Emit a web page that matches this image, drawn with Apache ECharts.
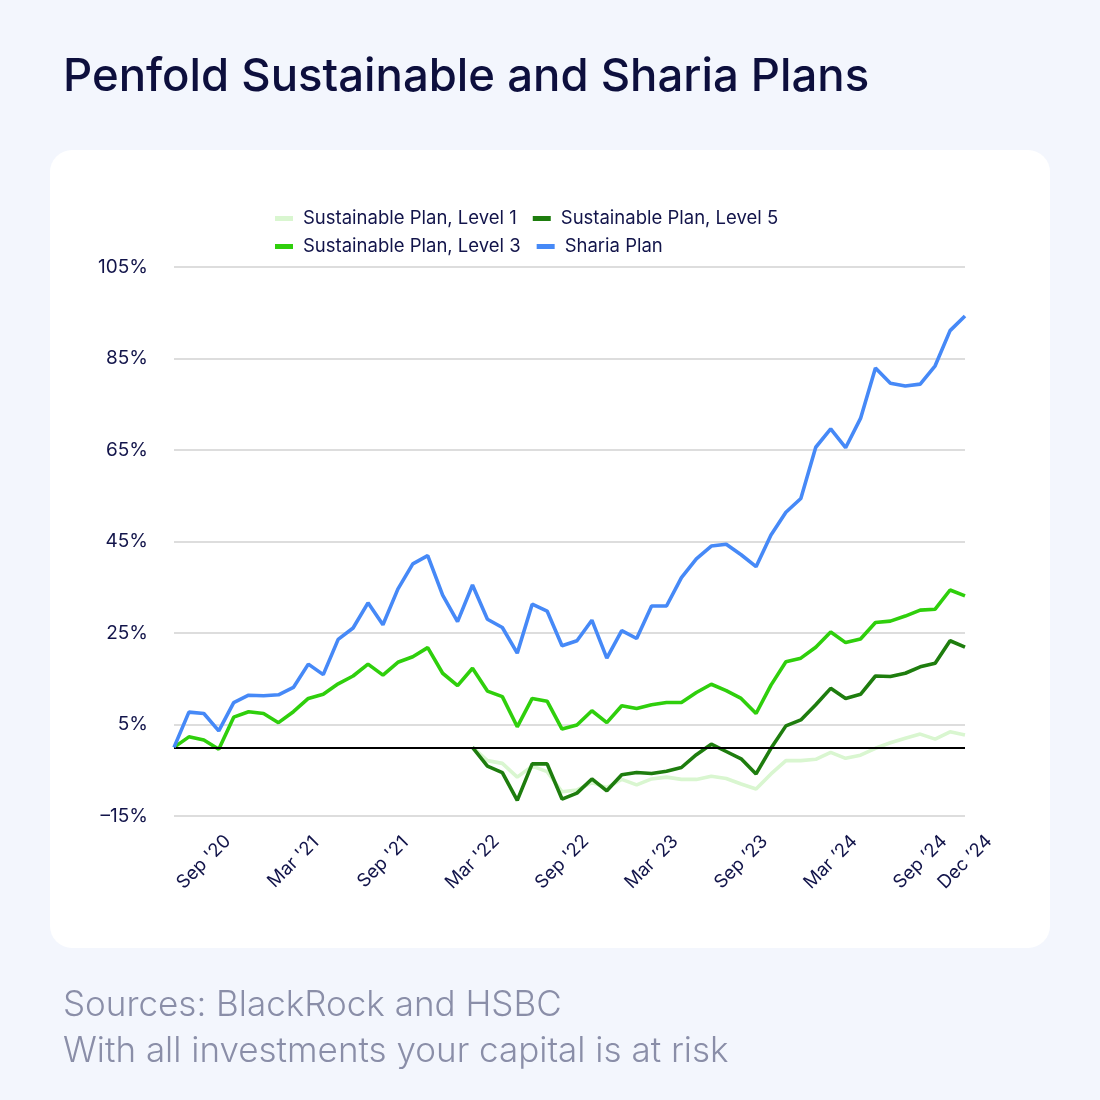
<!DOCTYPE html>
<html>
<head>
<meta charset="utf-8">
<style>
  html, body { margin: 0; padding: 0; background: #f3f6fd; }
  #chart { width: 1100px; height: 1100px; }
</style>
<script src="https://cdn.jsdelivr.net/npm/echarts@6/dist/echarts.min.js"></script>
</head>
<body>
<div id="chart"></div>
<script>
var months = [
  "Jul '20", "Aug '20", "Sep '20", "Oct '20", "Nov '20", "Dec '20",
  "Jan '21", "Feb '21", "Mar '21", "Apr '21", "May '21", "Jun '21",
  "Jul '21", "Aug '21", "Sep '21", "Oct '21", "Nov '21", "Dec '21",
  "Jan '22", "Feb '22", "Mar '22", "Apr '22", "May '22", "Jun '22",
  "Jul '22", "Aug '22", "Sep '22", "Oct '22", "Nov '22", "Dec '22",
  "Jan \u201923", "Feb \u201923", "Mar \u201923", "Apr \u201923", "May \u201923", "Jun \u201923",
  "Jul \u201923", "Aug \u201923", "Sep \u201923", "Oct \u201923", "Nov \u201923", "Dec \u201923",
  "Jan \u201924", "Feb \u201924", "Mar \u201924", "Apr \u201924", "May \u201924", "Jun \u201924",
  "Jul \u201924", "Aug \u201924", "Sep \u201924", "Oct \u201924", "Nov \u201924", "Dec \u201924"
];

// only these months get a label on the x axis
var tickLabels = [
  "Sep '20", "Mar '21", "Sep '21", "Mar '22", "Sep '22",
  "Mar \u201923", "Sep \u201923", "Mar \u201924", "Sep \u201924", "Dec \u201924"
];

var level1 = [
  null, null, null, null, null, null, null, null, null, null,
  null, null, null, null, null, null, null, null, null, null,
  0, -2.9, -3.5, -6.5, -4.1, -5.3, -9.7, -9.3, -7.7, -8.8,
  -7.0, -8.2, -6.9, -6.5, -7.0, -7.0, -6.3, -6.8, -8.0, -9.1,
  -5.8, -2.9, -2.9, -2.6, -1.1, -2.4, -1.7, -0.2, 1.0, 2.0,
  2.9, 1.8, 3.4, 2.7
];

var level3 = [
  0, 2.3, 1.6, -0.4, 6.6, 7.8, 7.4, 5.4, 7.8, 10.7,
  11.6, 13.9, 15.6, 18.2, 15.8, 18.6, 19.8, 21.8, 16.2, 13.5,
  17.3, 12.3, 11.1, 4.5, 10.7, 10.1, 4.0, 4.9, 8.0, 5.4,
  9.1, 8.5, 9.3, 9.8, 9.8, 12.0, 13.8, 12.4, 10.7, 7.4,
  13.6, 18.7, 19.5, 21.9, 25.2, 22.9, 23.7, 27.3, 27.6, 28.7,
  30.0, 30.2, 34.4, 33.1
];

var level5 = [
  null, null, null, null, null, null, null, null, null, null,
  null, null, null, null, null, null, null, null, null, null,
  0, -4.1, -5.5, -11.6, -3.6, -3.6, -11.3, -10.0, -6.9, -9.5,
  -6.0, -5.5, -5.7, -5.2, -4.4, -1.6, 0.7, -0.9, -2.5, -5.8,
  -0.2, 4.7, 6.0, 9.3, 12.9, 10.7, 11.6, 15.6, 15.5, 16.2,
  17.6, 18.4, 23.3, 21.9
];

var sharia = [
  0, 7.7, 7.4, 3.6, 9.8, 11.4, 11.3, 11.5, 13.1, 18.2,
  15.9, 23.6, 26.1, 31.6, 26.8, 34.6, 40.1, 41.9, 33.3, 27.5,
  35.5, 28.0, 26.2, 20.6, 31.3, 29.8, 22.2, 23.3, 27.8, 19.5,
  25.5, 23.8, 30.9, 30.9, 37.1, 41.2, 44.0, 44.4, 42.1, 39.5,
  46.4, 51.4, 54.4, 65.6, 69.6, 65.5, 71.9, 82.9, 79.6, 79.0,
  79.4, 83.4, 91.1, 94.3
];

var NAVY = '#12144a';
var FONT = 'Inter, "Noto Sans", sans-serif';

var myChart = echarts.init(document.getElementById('chart'));

var lineSeries = function(name, data, color, z) {
    return {
        name: name,
        type: 'line',
        data: data,
        symbol: 'none',
        showSymbol: false,
        connectNulls: false,
        z: z,
        lineStyle: { color: color, width: 3.6 },
        itemStyle: { color: color }
    };
};

var zeroSeries = lineSeries('Sustainable Plan, Level 1', level1, '#d9f6d0', 2);
// black baseline at 0%
zeroSeries.markLine = {
    silent: true,
    symbol: 'none',
    label: { show: false },
    lineStyle: { color: '#000', width: 2, type: 'solid' },
    data: [{ yAxis: 0 }]
};

var legendText = { color: NAVY, fontSize: 18.5, padding: [0, 0, 0, 5] };

var option = {
    backgroundColor: '#f3f6fd',
    animation: false,
    textStyle: { fontFamily: FONT },
    graphic: [
        {
            type: 'rect', z: -10, silent: true,
            shape: { x: 50, y: 150, width: 1000, height: 798, r: 22 },
            style: { fill: '#ffffff' }
        },
        {
            type: 'text', left: 63, top: 54,
            style: { text: 'Penfold Sustainable and Sharia Plans', fill: '#0d0f3d',
                     font: '500 45.5px ' + FONT }
        },
        {
            type: 'text', left: 63, top: 988,
            style: { text: 'Sources: BlackRock and HSBC', fill: '#8a8ea8',
                     font: '300 35px ' + FONT }
        },
        {
            type: 'text', left: 63, top: 1034,
            style: { text: 'With all investments your capital is at risk', fill: '#8a8ea8',
                     font: '300 35px ' + FONT }
        }
    ],
    legend: [
        {
            data: ['Sustainable Plan, Level 1', 'Sustainable Plan, Level 5'],
            left: 275, top: 209, padding: 0,
            itemWidth: 18, itemHeight: 5, itemGap: 16, icon: 'rect',
            textStyle: legendText
        },
        {
            data: ['Sustainable Plan, Level 3', 'Sharia Plan'],
            left: 275, top: 237, padding: 0,
            itemWidth: 18, itemHeight: 5, itemGap: 16, icon: 'rect',
            textStyle: legendText
        }
    ],
    grid: {
        left: 174, right: 135, top: 267, bottom: 284,
        containLabel: false, outerBoundsMode: 'none'
    },
    xAxis: {
        type: 'category',
        data: months,
        boundaryGap: false,
        axisLine: { show: false },
        axisTick: { show: false },
        splitLine: { show: false },
        axisLabel: {
            interval: function(index, value) { return tickLabels.indexOf(value) >= 0; },
            rotate: 45,
            align: 'center',
            verticalAlign: 'middle',
            margin: 46,
            color: NAVY,
            fontSize: 18.5
        }
    },
    yAxis: {
        type: 'value',
        min: -15,
        max: 105,
        interval: 20,
        axisLine: { show: false },
        axisTick: { show: false },
        splitLine: { lineStyle: { color: '#d2d2d2', width: 1.5 } },
        axisLabel: {
            margin: 26,
            color: NAVY,
            fontSize: 19,
            formatter: function(v) { return (v < 0 ? '\u2013' + Math.abs(v) : v) + '%'; }
        }
    },
    series: [
        zeroSeries,
        lineSeries('Sustainable Plan, Level 5', level5, '#1e7d0e', 3),
        lineSeries('Sustainable Plan, Level 3', level3, '#2fcf0c', 4),
        lineSeries('Sharia Plan', sharia, '#4689f7', 5)
    ]
};

myChart.setOption(option);
</script>
</body>
</html>
